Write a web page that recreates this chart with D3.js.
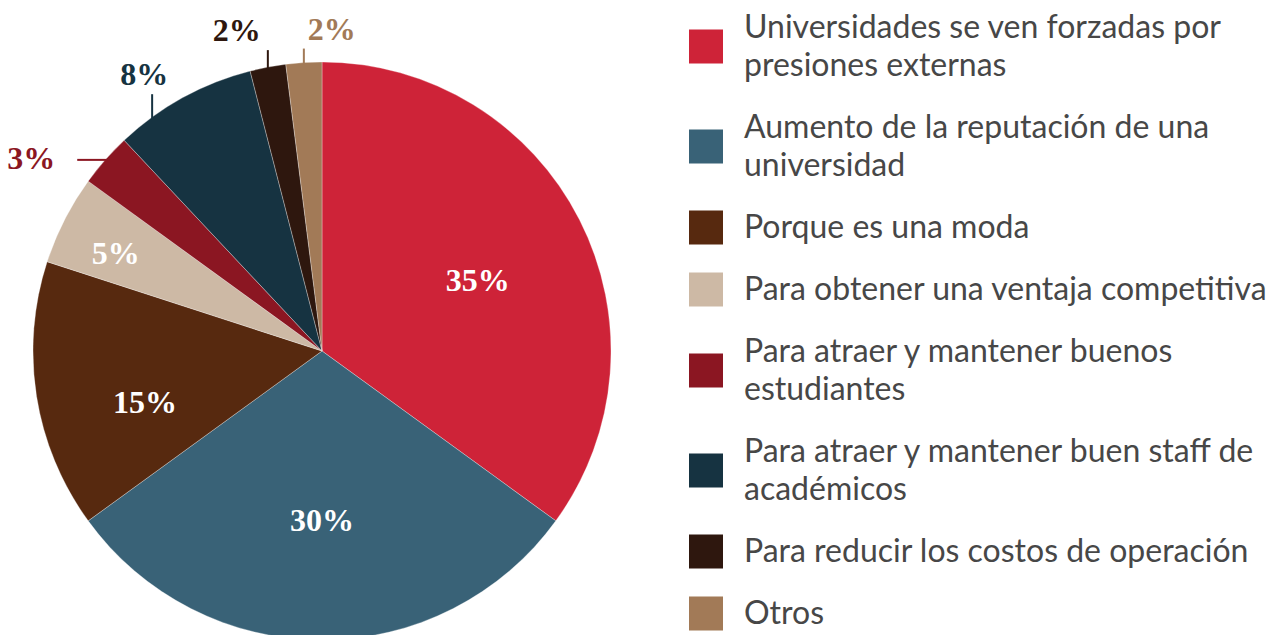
<!DOCTYPE html>
<html><head><meta charset="utf-8">
<script src="https://cdn.jsdelivr.net/npm/d3@7/dist/d3.min.js"></script>
<style>
html,body{margin:0;padding:0;background:#fff;}
svg{display:block;}
</style>
</head><body>
<svg id="chart" width="1277" height="635"></svg>
<script>
// ---- data ----
const categories = [
  "Universidades se ven forzadas por\npresiones externas",
  "Aumento de la reputación de una\nuniversidad",
  "Porque es una moda",
  "Para obtener una ventaja competitiva",
  "Para atraer y mantener buenos\nestudiantes",
  "Para atraer y mantener buen staff de\nacadémicos",
  "Para reducir los costos de operación",
  "Otros"
];
const values = [35, 30, 15, 5, 3, 8, 2, 2];
const valueLabels = ["35%", "30%", "15%", "5%", "3%", "8%", "2%", "2%"];
const colors = ["#CE2338", "#396277", "#57290F", "#CDB9A5", "#8B1622", "#163341", "#2E170E", "#A27A57"];

// ---- label layout (style config) ----
const labelLayout = [
  {mode: "in", frac: 0.52, r: 0.592},
  {mode: "in", frac: 0.5, r: 0.585},
  {mode: "in", frac: 0.37, r: 0.637},
  {mode: "in", frac: 0.41, r: 0.79},
  {mode: "left", frac: 0.5, len: 28, gap: 22},
  {mode: "up", frac: 0.25, len: 23, dx: -8},
  {mode: "up", frac: 0.5, len: 17, dx: -31},
  {mode: "up", frac: 0.5, len: 14, dx: 28}
];

const svg = d3.select("#chart");
const cx = 322, cy = 351, R = 289;

const pie = d3.pie().sort(null).value(d => d)(values);
const arc = d3.arc().innerRadius(0).outerRadius(R);

const g = svg.append("g").attr("transform", `translate(${cx},${cy})`);
g.selectAll("path.slice").data(pie).join("path")
  .attr("class", "slice")
  .attr("d", arc)
  .attr("fill", (d, i) => colors[i])
  .attr("stroke", "#ffffff")
  .attr("stroke-opacity", 0.5)
  .attr("stroke-width", 0.6);

const labelFont = "'Liberation Serif', 'DejaVu Serif', serif";
function polar(a, r) { return [r * Math.sin(a), -r * Math.cos(a)]; }

pie.forEach((d, i) => {
  const L = labelLayout[i];
  const a = d.startAngle + (d.endAngle - d.startAngle) * L.frac;
  if (L.mode === "in") {
    const [x, y] = polar(a, L.r * R);
    g.append("text").attr("x", x).attr("y", y)
      .attr("text-anchor", "middle").attr("dominant-baseline", "central")
      .attr("font-family", labelFont).attr("font-weight", "bold")
      .attr("font-size", 32).attr("fill", "#ffffff").text(valueLabels[i]);
  } else if (L.mode === "left") {
    const [x, y] = polar(a, R);
    g.append("line").attr("x1", x + 2).attr("y1", y).attr("x2", x - L.len).attr("y2", y)
      .attr("stroke", colors[i]).attr("stroke-width", 2);
    g.append("text").attr("x", x - L.len - L.gap).attr("y", y - 2)
      .attr("text-anchor", "end").attr("dominant-baseline", "central")
      .attr("font-family", labelFont).attr("font-weight", "bold")
      .attr("font-size", 32).attr("fill", colors[i]).text(valueLabels[i]);
  } else {
    const [x, y] = polar(a, R);
    g.append("line").attr("x1", x).attr("y1", y + 2).attr("x2", x).attr("y2", y - L.len)
      .attr("stroke", colors[i]).attr("stroke-width", 2);
    g.append("text").attr("x", x + L.dx).attr("y", y - L.len - 9)
      .attr("text-anchor", "middle")
      .attr("font-family", labelFont).attr("font-weight", "bold")
      .attr("font-size", 32).attr("fill", colors[i]).text(valueLabels[i]);
  }
});

// ---- legend ----
const legend = svg.append("g");
const lineH = 38, gapH = 24, sw = 34, swX = 689, textX = 744;
let blockTop = 46.5 - (2 * lineH + gapH) / 2;
categories.forEach((c, i) => {
  const lines = c.split("\n");
  const h = lines.length * lineH + gapH;
  const center = blockTop + h / 2;
  legend.append("rect").attr("x", swX).attr("y", center - sw / 2)
    .attr("width", sw).attr("height", sw).attr("fill", colors[i]);
  const t = legend.append("text").attr("font-family", "Lato, 'Open Sans', sans-serif")
    .attr("font-size", 32).attr("fill", "#474747");
  const firstBase = center - (lines.length - 1) * lineH / 2 + 10.5;
  lines.forEach((ln, k) => {
    t.append("tspan").attr("x", textX).attr("y", firstBase + k * lineH).text(ln);
  });
  blockTop += h;
});
</script>
</body></html>
